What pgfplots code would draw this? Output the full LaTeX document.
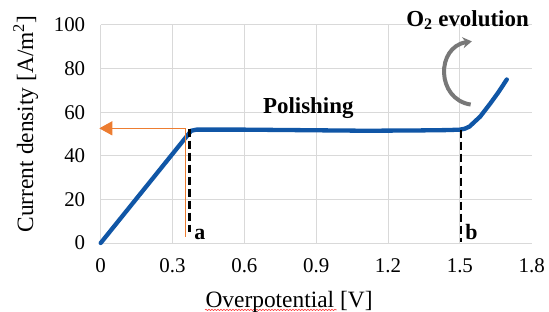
\documentclass[border=0pt]{standalone}
\usepackage{fontspec}
\setmainfont{Liberation Serif}
\usepackage{pgfplots}
\pgfplotsset{compat=1.18}
\usetikzlibrary{arrows.meta,decorations.pathmorphing}
\definecolor{bluel}{RGB}{16,86,166}
\definecolor{orangel}{RGB}{237,125,49}
\definecolor{gridc}{RGB}{217,217,217}
\definecolor{arrowgray}{RGB}{120,120,120}
\begin{document}
\begin{tikzpicture}
\useasboundingbox (-100.7bp,-69bp) rectangle (448.3bp,243bp);
\begin{axis}[
  at={(0,0)}, anchor=south west,
  scale only axis, width=431bp, height=218bp,
  xmin=0, xmax=1.8, ymin=0, ymax=100,
  xtick={0,0.3,0.6,0.9,1.2,1.5},
  extra x ticks={1.8},
  extra x tick style={grid=none},
  ytick={0,20,40,60,80,100},
  grid=major,
  grid style={gridc, line width=1bp},
  axis line style={draw=none},
  major tick length=0pt,
  clip=false,
  /pgf/number format/assume math mode=true,
  tick label style={font=\fontsize{21}{25}\selectfont},
  xticklabel style={yshift=-12bp},
  yticklabel style={xshift=-12bp},
  label style={font=\fontsize{23.5}{28}\selectfont},
  xlabel={Overpotential [V]},
  ylabel={Current density [A/m\textsuperscript{2}]},
  xlabel style={at={(axis description cs:0.437,-0.2936)}, anchor=base},
  ylabel style={at={(axis description cs:-0.157,0.546)}, anchor=base},
]
\addplot[bluel, line width=4.3bp, line join=round, line cap=round] coordinates {
(0,0) (0.378,51.5) (0.40,52) (0.6,52) (0.9,51.7) (1.1,51.5) (1.3,51.6)
(1.45,51.8) (1.5,52.0) (1.52,52.4) (1.54,53.4) (1.585,58) (1.627,64) (1.66,69) (1.696,75)};
\draw[orangel, line width=1.2bp] (axis cs:0.355,2.8) -- (axis cs:0.355,52.6);
\draw[orangel, line width=1.2bp, -{Triangle[length=13bp,width=14bp]}] (axis cs:0.355,52.6) -- (axis cs:-0.006,52.6);
\draw[black, line width=2.6bp, dash pattern=on 8bp off 4bp] (axis cs:0.370,52.5) -- (axis cs:0.370,5);
\draw[black, line width=2.6bp, dash pattern=on 8bp off 4bp] (axis cs:1.504,52) -- (axis cs:1.504,0.5);
\node[font=\bfseries\fontsize{22}{26}\selectfont, anchor=base west, inner sep=0pt] at (axis cs:0.39,1.4) {a};
\node[font=\bfseries\fontsize{22}{26}\selectfont, anchor=base west, inner sep=0pt] at (axis cs:1.522,1.4) {b};
\node[font=\bfseries\fontsize{23}{27}\selectfont, anchor=base, inner sep=0pt] at (axis cs:0.867,59.5) {Polishing};
\node[font=\bfseries\fontsize{23}{27}\selectfont, anchor=base, inner sep=0pt] at (axis cs:1.532,99.5) {O\textsubscript{2} evolution};
\draw[arrowgray, line width=4bp, -{Stealth[length=9bp,width=11bp]}] (axis cs:1.545,63.5) .. controls (axis cs:1.40,66) and (axis cs:1.40,90) .. (axis cs:1.55,92.5);
\draw[red!80, line width=0.6bp, decorate, decoration={snake, amplitude=0.6bp, segment length=3bp}] (axis description cs:0.242,-0.307) -- (axis description cs:0.548,-0.307);
\end{axis}
\end{tikzpicture}
\end{document}
